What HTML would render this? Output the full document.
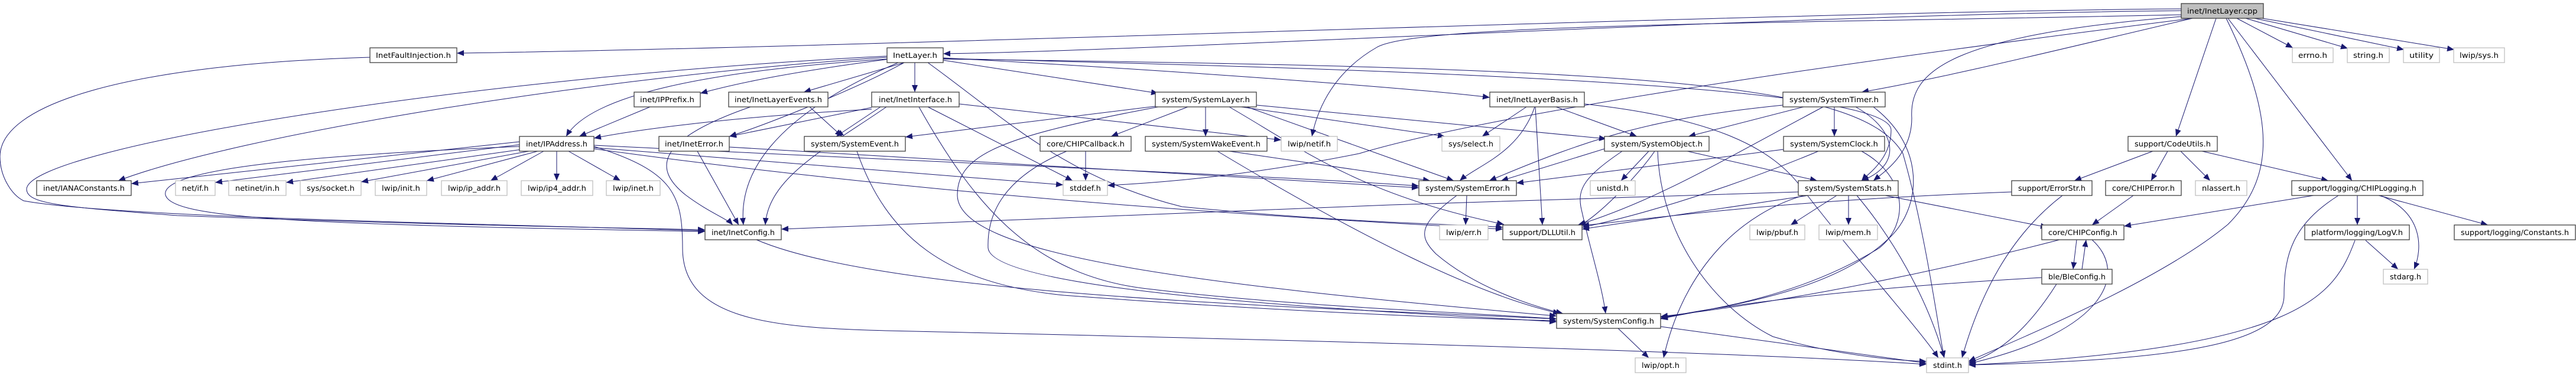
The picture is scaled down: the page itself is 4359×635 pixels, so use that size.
<!DOCTYPE html>
<html><head><meta charset="utf-8"><style>
html,body{margin:0;padding:0;background:#fff;}
svg{display:block}
text{font-family:"DejaVu Sans","Liberation Sans",sans-serif;font-size:12px;fill:#000;}
.b{fill:#fff;stroke:#404040;stroke-width:1.3}
.g{fill:#fff;stroke:#bfbfbf;stroke-width:1.3}
.e path{fill:none;stroke:#191970;stroke-width:1;marker-end:url(#a)}
</style></head><body>
<svg width="4359" height="635" viewBox="0 0 4359 635" xmlns="http://www.w3.org/2000/svg">
<defs><marker id="a" markerUnits="userSpaceOnUse" markerWidth="12" markerHeight="10" refX="12" refY="5" orient="auto"><path d="M0,0 L12,5 L0,10 z" fill="#191970"/></marker></defs>
<g class="e">
<path d="M3691,18 C3000,25 2000,85 1596,91"/>
<path d="M3691,15 C3000,20 1500,80 773,90"/>
<path d="M3710,31 C3500,80 3300,130 3150,156"/>
<path d="M3750,31 L3682,231"/>
<path d="M3770,31 L3980,306"/>
<path d="M3785,31 L3880,81"/>
<path d="M3800,31 L3973,82"/>
<path d="M3815,31 L4068,84"/>
<path d="M3828,31 L4153,84"/>
<path d="M3767,31 C3850,200 3850,300 3770,380 C3650,480 3400,580 3331,612"/>
<path d="M3691,25 C3000,40 2400,40 2330,80 C2260,120 2230,180 2220,231"/>
<path d="M3710,31 C3000,120 2500,200 2300,260 C2100,300 1950,310 1874,314"/>
<path d="M3691,28 C3300,60 3230,120 3235,200 C3235,260 3190,290 3170,306"/>
<path d="M1505,100 C1350,120 1250,140 1185,158"/>
<path d="M1530,106 L1360,156"/>
<path d="M1548,106 L1548,156"/>
<path d="M1596,102 L1960,158"/>
<path d="M1596,98 C2000,120 2400,150 2521,165"/>
<path d="M1501,100 C1200,120 1000,160 958,231"/>
<path d="M1501,97 C1000,130 400,230 200,306"/>
<path d="M1530,106 C1450,150 1300,210 1234,231"/>
<path d="M1520,106 C1300,200 1250,300 1258,381"/>
<path d="M1570,106 C1700,200 1800,300 2000,350 C2300,380 2500,380 2543,385"/>
<path d="M1596,100 C2800,115 3150,140 3220,260 C3260,400 3280,560 3290,606"/>
<path d="M1596,99 C2500,120 3200,150 3200,220 C3200,270 3160,295 3150,306"/>
<path d="M1501,95 C800,130 50,250 45,320 C45,345 100,350 300,365 C700,380 1000,385 1193,389"/>
<path d="M626,97 C200,110 0,180 0,265 C0,300 20,330 40,340 C200,370 900,380 1193,391"/>
<path d="M1475,185 C1200,200 1050,225 1005,234"/>
<path d="M1475,182 L1234,231"/>
<path d="M1500,181 C1400,250 1300,300 1295,381"/>
<path d="M1570,181 L1815,306"/>
<path d="M1623,176 L2168,237"/>
<path d="M1555,181 C1650,350 1750,470 1950,490 C2200,520 2500,530 2634,540"/>
<path d="M1490,181 L1415,231"/>
<path d="M1955,180 L1532,232"/>
<path d="M2010,181 L1880,231"/>
<path d="M2040,181 L2040,231"/>
<path d="M2100,181 L2445,231"/>
<path d="M2126,178 L2718,235"/>
<path d="M2110,181 L2460,306"/>
<path d="M2080,181 C2200,250 2300,330 2545,380"/>
<path d="M1960,181 C1700,230 1620,260 1620,330 C1620,430 2000,480 2634,535"/>
<path d="M1450,256 C1500,400 1600,480 1800,500 C2200,530 2500,540 2634,543"/>
<path d="M1837,256 L1837,306"/>
<path d="M1805,256 C1700,300 1670,360 1672,420 C1680,500 2400,530 2634,545"/>
<path d="M2080,256 L2420,306"/>
<path d="M2060,256 C2300,400 2500,500 2640,531"/>
<path d="M879,240 L222,311"/>
<path d="M879,245 L364,309"/>
<path d="M890,252 L484,309"/>
<path d="M895,256 L611,308"/>
<path d="M910,256 L722,306"/>
<path d="M920,256 L830,306"/>
<path d="M942,256 L942,306"/>
<path d="M962,256 L1050,306"/>
<path d="M879,248 C600,260 270,280 280,330 C290,370 500,380 1193,392"/>
<path d="M1005,250 L1799,313"/>
<path d="M1005,252 C1500,320 2000,360 2543,388"/>
<path d="M1005,248 C1140,290 1155,330 1155,420 C1155,540 1300,555 1500,560 C2400,580 3000,600 3260,617"/>
<path d="M1005,246 C1700,280 2200,300 2401,315"/>
<path d="M1180,256 L1250,381"/>
<path d="M1234,249 L2401,318"/>
<path d="M1370,181 L1425,231"/>
<path d="M1270,181 C1100,240 1110,290 1160,330 C1200,360 1230,370 1240,381"/>
<path d="M1100,181 L980,231"/>
<path d="M2583,181 L2508,231"/>
<path d="M2598,181 L2610,381"/>
<path d="M2633,181 L2770,231"/>
<path d="M2597,181 C2570,260 2500,280 2470,306"/>
<path d="M2681,176 C2900,200 3000,250 3050,320 C3150,450 3250,560 3280,606"/>
<path d="M2715,252 L2540,306"/>
<path d="M2790,256 L2743,306"/>
<path d="M2800,256 C2770,300 2700,370 2672,382"/>
<path d="M2855,256 L3075,306"/>
<path d="M2805,256 C2810,400 2900,520 3000,570 C3100,600 3200,610 3260,612"/>
<path d="M2745,256 C2680,300 2670,320 2675,350 C2690,420 2710,480 2717,531"/>
<path d="M3052,181 L2857,231"/>
<path d="M3104,181 L3104,231"/>
<path d="M3140,181 C3210,220 3220,280 3150,306"/>
<path d="M3017,178 C2800,200 2700,230 2520,306"/>
<path d="M3085,181 C2900,280 2800,340 2670,381"/>
<path d="M3170,181 C3260,250 3250,350 3200,400 C3100,500 2900,520 2810,540"/>
<path d="M3077,256 C2900,330 2750,370 2677,385"/>
<path d="M3150,256 C3230,300 3230,380 3180,420 C3050,500 2900,525 2810,537"/>
<path d="M3018,253 L2566,310"/>
<path d="M3043,325 C2500,340 1700,370 1322,388"/>
<path d="M3060,331 L2677,388"/>
<path d="M3108,331 L3030,381"/>
<path d="M3128,331 L3128,381"/>
<path d="M3142,331 C3200,400 3260,500 3290,606"/>
<path d="M3190,331 L3465,385"/>
<path d="M3052,331 C2950,360 2850,450 2815,606"/>
<path d="M2482,331 L2480,381"/>
<path d="M2465,331 C2400,380 2400,400 2430,430 C2500,490 2600,520 2645,531"/>
<path d="M3643,256 L3510,306"/>
<path d="M3668,256 L3640,306"/>
<path d="M3690,256 L3740,306"/>
<path d="M3726,256 L3940,306"/>
<path d="M3404,325 C3000,340 2800,370 2677,382"/>
<path d="M3490,331 C3400,400 3350,500 3320,606"/>
<path d="M3610,331 L3540,381"/>
<path d="M3915,331 L3594,383"/>
<path d="M3989,331 L3989,381"/>
<path d="M4025,331 L4210,381"/>
<path d="M4028,331 C4100,360 4100,420 4085,456"/>
<path d="M3957,331 C3880,380 3865,430 3865,500 C3865,580 3700,610 3331,618"/>
<path d="M4003,407 L4058,456"/>
<path d="M3985,407 C3950,500 3900,590 3331,618"/>
<path d="M3514,406 L3508,456"/>
<path d="M3485,406 C3200,480 2950,520 2810,536"/>
<path d="M3540,406 C3600,460 3570,560 3331,616"/>
<path d="M3523,456 L3530,406"/>
<path d="M3455,470 C3100,490 2900,520 2810,539"/>
<path d="M3480,481 C3430,560 3380,600 3331,614"/>
<path d="M1280,406 C1500,500 2200,520 2634,540"/>
<path d="M2738,556 L2790,606"/>
<path d="M2810,553 L3260,615"/>
</g>
<g>
<rect x="3691" y="6" width="139" height="25" fill="#bfbfbf" stroke="#404040" stroke-width="1.3"/><text x="3760.5" y="23" text-anchor="middle" textLength="119" lengthAdjust="spacingAndGlyphs">inet/InetLayer.cpp</text>
<rect class="b" x="626" y="81" width="147" height="25"/><text x="699.5" y="98" text-anchor="middle" textLength="127" lengthAdjust="spacingAndGlyphs">InetFaultInjection.h</text>
<rect class="b" x="1501" y="81" width="95" height="25"/><text x="1548.5" y="98" text-anchor="middle" textLength="75" lengthAdjust="spacingAndGlyphs">InetLayer.h</text>
<rect class="g" x="3879" y="81" width="69" height="25"/><text x="3913.5" y="98" text-anchor="middle" textLength="49" lengthAdjust="spacingAndGlyphs">errno.h</text>
<rect class="g" x="3972" y="81" width="71" height="25"/><text x="4007.5" y="98" text-anchor="middle" textLength="51" lengthAdjust="spacingAndGlyphs">string.h</text>
<rect class="g" x="4067" y="81" width="61" height="25"/><text x="4097.5" y="98" text-anchor="middle" textLength="41" lengthAdjust="spacingAndGlyphs">utility</text>
<rect class="g" x="4152" y="81" width="86" height="25"/><text x="4195" y="98" text-anchor="middle" textLength="66" lengthAdjust="spacingAndGlyphs">lwip/sys.h</text>

<rect class="b" x="1073" y="156" width="112" height="25"/><text x="1129" y="173" text-anchor="middle" textLength="92" lengthAdjust="spacingAndGlyphs">inet/IPPrefix.h</text>
<rect class="b" x="1233" y="156" width="168" height="25"/><text x="1317" y="173" text-anchor="middle" textLength="148" lengthAdjust="spacingAndGlyphs">inet/InetLayerEvents.h</text>
<rect class="b" x="1475" y="156" width="148" height="25"/><text x="1549" y="173" text-anchor="middle" textLength="124" lengthAdjust="spacingAndGlyphs">inet/InetInterface.h</text>
<rect class="b" x="1955" y="156" width="171" height="25"/><text x="2040.5" y="173" text-anchor="middle" textLength="149" lengthAdjust="spacingAndGlyphs">system/SystemLayer.h</text>
<rect class="b" x="2521" y="156" width="160" height="25"/><text x="2601" y="173" text-anchor="middle" textLength="138" lengthAdjust="spacingAndGlyphs">inet/InetLayerBasis.h</text>
<rect class="b" x="3017" y="156" width="173" height="25"/><text x="3103.5" y="173" text-anchor="middle" textLength="151" lengthAdjust="spacingAndGlyphs">system/SystemTimer.h</text>

<rect class="b" x="879" y="231" width="126" height="25"/><text x="942" y="248" text-anchor="middle" textLength="104" lengthAdjust="spacingAndGlyphs">inet/IPAddress.h</text>
<rect class="b" x="1115" y="231" width="119" height="25"/><text x="1174.5" y="248" text-anchor="middle" textLength="99" lengthAdjust="spacingAndGlyphs">inet/InetError.h</text>
<rect class="b" x="1361" y="231" width="171" height="25"/><text x="1446.5" y="248" text-anchor="middle" textLength="149" lengthAdjust="spacingAndGlyphs">system/SystemEvent.h</text>
<rect class="b" x="1760" y="231" width="154" height="25"/><text x="1837" y="248" text-anchor="middle" textLength="132" lengthAdjust="spacingAndGlyphs">core/CHIPCallback.h</text>
<rect class="b" x="1938" y="231" width="206" height="25"/><text x="2041" y="248" text-anchor="middle" textLength="184" lengthAdjust="spacingAndGlyphs">system/SystemWakeEvent.h</text>
<rect class="g" x="2168" y="231" width="95" height="25"/><text x="2215.5" y="248" text-anchor="middle" textLength="73" lengthAdjust="spacingAndGlyphs">lwip/netif.h</text>
<rect class="g" x="2440" y="231" width="98" height="25"/><text x="2489" y="248" text-anchor="middle" textLength="76" lengthAdjust="spacingAndGlyphs">sys/select.h</text>
<rect class="b" x="2715" y="231" width="177" height="25"/><text x="2803.5" y="248" text-anchor="middle" textLength="155" lengthAdjust="spacingAndGlyphs">system/SystemObject.h</text>
<rect class="b" x="3018" y="231" width="171" height="25"/><text x="3103.5" y="248" text-anchor="middle" textLength="149" lengthAdjust="spacingAndGlyphs">system/SystemClock.h</text>
<rect class="b" x="3601" y="231" width="151" height="25"/><text x="3676.5" y="248" text-anchor="middle" textLength="129" lengthAdjust="spacingAndGlyphs">support/CodeUtils.h</text>

<rect class="b" x="62" y="306" width="160" height="25"/><text x="142" y="323" text-anchor="middle" textLength="138" lengthAdjust="spacingAndGlyphs">inet/IANAConstants.h</text>
<rect class="g" x="297" y="306" width="67" height="25"/><text x="330.5" y="323" text-anchor="middle" textLength="45" lengthAdjust="spacingAndGlyphs">net/if.h</text>
<rect class="g" x="387" y="306" width="97" height="25"/><text x="435.5" y="323" text-anchor="middle" textLength="75" lengthAdjust="spacingAndGlyphs">netinet/in.h</text>
<rect class="g" x="508" y="306" width="103" height="25"/><text x="559.5" y="323" text-anchor="middle" textLength="81" lengthAdjust="spacingAndGlyphs">sys/socket.h</text>
<rect class="g" x="635" y="306" width="87" height="25"/><text x="678.5" y="323" text-anchor="middle" textLength="65" lengthAdjust="spacingAndGlyphs">lwip/init.h</text>
<rect class="g" x="747" y="306" width="111" height="25"/><text x="802.5" y="323" text-anchor="middle" textLength="89" lengthAdjust="spacingAndGlyphs">lwip/ip_addr.h</text>
<rect class="g" x="882" y="306" width="121" height="25"/><text x="942.5" y="323" text-anchor="middle" textLength="99" lengthAdjust="spacingAndGlyphs">lwip/ip4_addr.h</text>
<rect class="g" x="1026" y="306" width="91" height="25"/><text x="1071.5" y="323" text-anchor="middle" textLength="69" lengthAdjust="spacingAndGlyphs">lwip/inet.h</text>
<rect class="g" x="1799" y="306" width="75" height="25"/><text x="1836.5" y="323" text-anchor="middle" textLength="53" lengthAdjust="spacingAndGlyphs">stddef.h</text>
<rect class="b" x="2401" y="306" width="165" height="25"/><text x="2483.5" y="323" text-anchor="middle" textLength="143" lengthAdjust="spacingAndGlyphs">system/SystemError.h</text>
<rect class="g" x="2691" y="306" width="76" height="25"/><text x="2729" y="323" text-anchor="middle" textLength="54" lengthAdjust="spacingAndGlyphs">unistd.h</text>
<rect class="b" x="3043" y="306" width="169" height="25"/><text x="3127.5" y="323" text-anchor="middle" textLength="147" lengthAdjust="spacingAndGlyphs">system/SystemStats.h</text>
<rect class="b" x="3404" y="306" width="136" height="25"/><text x="3472" y="323" text-anchor="middle" textLength="114" lengthAdjust="spacingAndGlyphs">support/ErrorStr.h</text>
<rect class="b" x="3563" y="306" width="128" height="25"/><text x="3627" y="323" text-anchor="middle" textLength="106" lengthAdjust="spacingAndGlyphs">core/CHIPError.h</text>
<rect class="g" x="3715" y="306" width="87" height="25"/><text x="3758.5" y="323" text-anchor="middle" textLength="65" lengthAdjust="spacingAndGlyphs">nlassert.h</text>
<rect class="b" x="3878" y="306" width="222" height="25"/><text x="3989" y="323" text-anchor="middle" textLength="200" lengthAdjust="spacingAndGlyphs">support/logging/CHIPLogging.h</text>

<rect class="b" x="1193" y="381" width="129" height="25"/><text x="1257.5" y="398" text-anchor="middle" textLength="107" lengthAdjust="spacingAndGlyphs">inet/InetConfig.h</text>
<rect class="g" x="2436" y="381" width="82" height="25"/><text x="2477" y="398" text-anchor="middle" textLength="60" lengthAdjust="spacingAndGlyphs">lwip/err.h</text>
<rect class="b" x="2543" y="381" width="134" height="25"/><text x="2610" y="398" text-anchor="middle" textLength="112" lengthAdjust="spacingAndGlyphs">support/DLLUtil.h</text>
<rect class="g" x="2961" y="381" width="93" height="25"/><text x="3007.5" y="398" text-anchor="middle" textLength="71" lengthAdjust="spacingAndGlyphs">lwip/pbuf.h</text>
<rect class="g" x="3078" y="381" width="99" height="25"/><text x="3127.5" y="398" text-anchor="middle" textLength="77" lengthAdjust="spacingAndGlyphs">lwip/mem.h</text>
<rect class="b" x="3455" y="381" width="139" height="25"/><text x="3524.5" y="398" text-anchor="middle" textLength="117" lengthAdjust="spacingAndGlyphs">core/CHIPConfig.h</text>
<rect class="b" x="3900" y="381" width="177" height="25"/><text x="3988.5" y="398" text-anchor="middle" textLength="155" lengthAdjust="spacingAndGlyphs">platform/logging/LogV.h</text>
<rect class="b" x="4153" y="381" width="205" height="25"/><text x="4255.5" y="398" text-anchor="middle" textLength="183" lengthAdjust="spacingAndGlyphs">support/logging/Constants.h</text>

<rect class="b" x="3455" y="456" width="119" height="25"/><text x="3514.5" y="473" text-anchor="middle" textLength="97" lengthAdjust="spacingAndGlyphs">ble/BleConfig.h</text>
<rect class="g" x="4033" y="456" width="75" height="25"/><text x="4070.5" y="473" text-anchor="middle" textLength="53" lengthAdjust="spacingAndGlyphs">stdarg.h</text>

<rect class="b" x="2634" y="531" width="176" height="25"/><text x="2722" y="548" text-anchor="middle" textLength="154" lengthAdjust="spacingAndGlyphs">system/SystemConfig.h</text>

<rect class="g" x="2767" y="606" width="86" height="25"/><text x="2810" y="623" text-anchor="middle" textLength="64" lengthAdjust="spacingAndGlyphs">lwip/opt.h</text>
<rect class="g" x="3260" y="606" width="71" height="25"/><text x="3295.5" y="623" text-anchor="middle" textLength="49" lengthAdjust="spacingAndGlyphs">stdint.h</text>
</g>
</svg>
</body></html>
